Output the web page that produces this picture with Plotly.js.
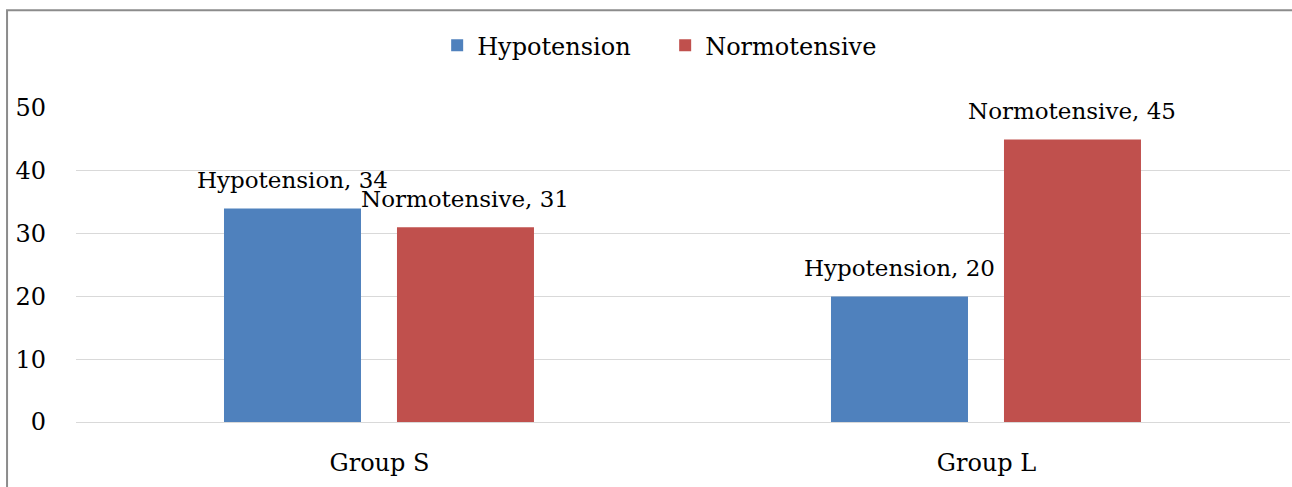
<!DOCTYPE html>
<html>
<head>
<meta charset="utf-8">
<script src="https://cdn.plot.ly/plotly-3.0.1.min.js"></script>
<style>html,body{margin:0;padding:0;background:#fff;}#chart{width:1292px;height:487px;}</style>
</head>
<body>
<div id="chart"></div>
<script>
const categories = ["Group S", "Group L"];
const hypotension = [34, 20];
const normotensive = [31, 45];
const seriesNames = ["Hypotension", "Normotensive"];
const yTicks = [0, 10, 20, 30, 40, 50];

const FONT = "DejaVu Serif";
const barW = 0.2257;
const offsets = [-0.2562, 0.0288];
const colors = ["#4F81BD", "#C0504D"];
const seriesValues = [hypotension, normotensive];

const traces = seriesValues.map((vals, i) => ({
  type: "bar",
  name: seriesNames[i],
  x: categories,
  y: vals,
  width: barW,
  offset: offsets[i],
  marker: {color: colors[i], line: {width: 0}},
  hoverinfo: "skip"
}));

const annotations = [];
seriesValues.forEach((vals, i) => {
  vals.forEach((v, j) => {
    annotations.push({
      x: j + offsets[i] + barW / 2,
      y: v,
      xref: "x", yref: "y",
      text: seriesNames[i] + ", " + v,
      showarrow: false,
      yanchor: "bottom",
      yshift: 13,
      font: {family: FONT, size: 23, color: "#000"}
    });
  });
});

const layout = {
  width: 1292, height: 487,
  margin: {l: 76, r: 2, t: 108, b: 65},
  paper_bgcolor: "#fff", plot_bgcolor: "#fff",
  barmode: "group",
  font: {family: FONT, size: 24, color: "#000"},
  showlegend: true,
  legend: {
    orientation: "h",
    x: 0.2975, xanchor: "left",
    y: 1.27, yanchor: "top",
    entrywidth: 183,
    font: {family: FONT, size: 24, color: "#000"},
    itemclick: false
  },
  xaxis: {
    type: "category",
    showgrid: false, zeroline: false, showline: false,
    ticks: "", ticklabelstandoff: 24,
    tickfont: {family: FONT, size: 24, color: "#000"}
  },
  yaxis: {
    range: [0, 50],
    tickvals: yTicks,
    showgrid: true, gridcolor: "#D9D9D9", gridwidth: 1,
    zeroline: true, zerolinecolor: "#D9D9D9", zerolinewidth: 1,
    showline: false, ticks: "",
    ticklabelstandoff: 29,
    tickfont: {family: FONT, size: 24, color: "#000"}
  },
  annotations: annotations,
  shapes: [{
    type: "rect", xref: "paper", yref: "paper",
    x0: -0.0568, x1: 1.05, y0: -0.3, y1: 1.3116,
    line: {color: "#8C8C8C", width: 2},
    layer: "below"
  }]
};

Plotly.newPlot("chart", traces, layout, {displayModeBar: false, staticPlot: true});
</script>
</body>
</html>
